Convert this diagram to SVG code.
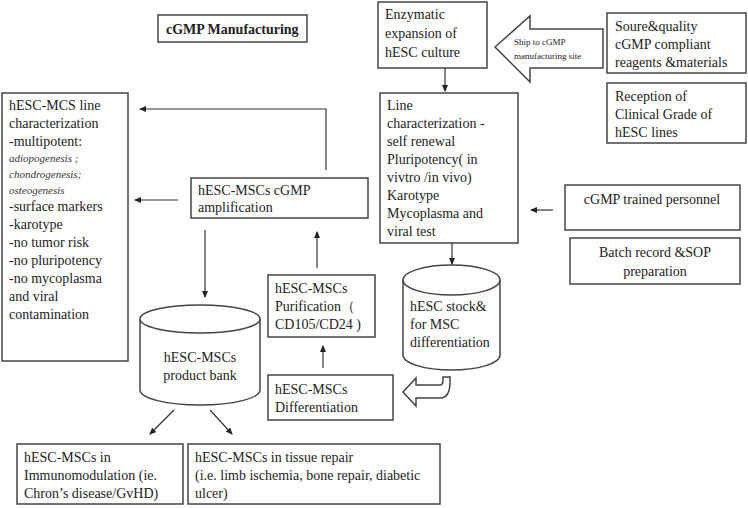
<svg xmlns="http://www.w3.org/2000/svg" width="748" height="508" viewBox="0 0 748 508">
<style>
.b{fill:#fff;stroke:#444;stroke-width:1.5}
.t{font-family:"Liberation Serif",serif;font-size:14px;fill:#222}
.s{font-family:"Liberation Serif",serif;font-size:9px;fill:#222}
.i{font-family:"Liberation Serif",serif;font-size:11px;font-style:italic;fill:#333}
.c{fill:none;stroke:#333;stroke-width:1.2}
</style>
<defs><marker id="a" markerWidth="8" markerHeight="8" refX="6" refY="4" orient="auto" markerUnits="userSpaceOnUse"><path d="M0,1 L7,4 L0,7 z" fill="#222"/></marker></defs>
<rect width="748" height="508" fill="#fff"/>
<g id="title"><rect class="b" x="158" y="15" width="149" height="27"/><text class="t" x="166" y="34" font-weight="bold" font-family="Liberation Sans,sans-serif" font-size="13">cGMP Manufacturing</text></g>
<g id="enzymatic"><rect class="b" x="378" y="2" width="109" height="66"/><text class="t" x="385" y="19">Enzymatic</text><text class="t" x="385" y="38">expansion of</text><text class="t" x="385" y="57">hESC culture</text></g>
<g id="ship"><path class="b" d="M495,47 L530,16 L530,29 L603,29 L603,68 L530,68 L530,82 Z"/><text class="s" x="514" y="45">Ship to cGMP</text><text class="s" x="514" y="59">manufacturing site</text></g>
<g id="source"><rect class="b" x="607" y="13" width="139" height="60"/><text class="t" x="615" y="31">Soure&amp;quality</text><text class="t" x="615" y="49">cGMP compliant</text><text class="t" x="615" y="67">reagents  &amp;materials</text></g>
<g id="reception"><rect class="b" x="607" y="83" width="139" height="60"/><text class="t" x="615" y="101">Reception of</text><text class="t" x="615" y="119">Clinical  Grade of</text><text class="t" x="615" y="137">hESC lines</text></g>
<g id="linechar"><rect class="b" x="380" y="93" width="138" height="150"/><text class="t" x="387" y="110">Line</text><text class="t" x="387" y="128">characterization  -</text><text class="t" x="387" y="146">self renewal</text><text class="t" x="387" y="164">Pluripotency( in</text><text class="t" x="387" y="182">vivtro /in vivo)</text><text class="t" x="387" y="200">Karotype</text><text class="t" x="387" y="218">Mycoplasma and</text><text class="t" x="387" y="236">viral  test</text></g>
<g id="personnel"><rect class="b" x="565" y="185" width="175" height="45"/><text class="t" x="652" y="204" text-anchor="middle">cGMP trained  personnel</text></g>
<g id="batch"><rect class="b" x="570" y="238" width="170" height="46"/><text class="t" x="655" y="257" text-anchor="middle">Batch record &amp;SOP</text><text class="t" x="655" y="276" text-anchor="middle">preparation</text></g>
<g id="stock"><path class="b" d="M403,280 L403,355 A48.5,15 0 0 0 500,355 L500,280"/><ellipse class="b" cx="451.5" cy="280" rx="48.5" ry="15"/><text class="t" x="410" y="311">hESC stock&amp;</text><text class="t" x="410" y="329">for MSC</text><text class="t" x="410" y="347">differentiation</text></g>
<g id="uturn"><path class="b" d="M403,392 L416,378 L416,385 L440,385 Q443,385 443,380 L443,377 L450,377 L450,382 Q450,398 440,398 L416,398 L416,406 Z"/></g>
<g id="diff"><rect class="b" x="268" y="375" width="125" height="45"/><text class="t" x="275" y="394">hESC-MSCs</text><text class="t" x="275" y="412">Differentiation</text></g>
<g id="purif"><rect class="b" x="268" y="275" width="107" height="62"/><text class="t" x="275" y="293">hESC-MSCs</text><text class="t" x="275" y="311">Purification（</text><text class="t" x="275" y="329">CD105/CD24 )</text></g>
<g id="amp"><rect class="b" x="191" y="178" width="177" height="40"/><text class="t" x="198" y="195">hESC-MSCs cGMP</text><text class="t" x="198" y="212">amplification</text></g>
<g id="leftchar"><rect class="b" x="2" y="93" width="126" height="268"/>
<text class="t" x="9" y="110">hESC-MCS line</text><text class="t" x="9" y="128">characterization</text><text class="t" x="9" y="146">-multipotent:</text><text class="i" x="9" y="162">adiopogenesis ;</text><text class="i" x="9" y="178">chondrogenesis;</text><text class="i" x="9" y="194">osteogenesis</text><text class="t" x="9" y="211">-surface markers</text><text class="t" x="9" y="229">-karotype</text><text class="t" x="9" y="247">-no tumor risk</text><text class="t" x="9" y="265">-no pluripotency</text><text class="t" x="9" y="283">-no mycoplasma</text><text class="t" x="9" y="301">and viral</text><text class="t" x="9" y="319">contamination</text></g>
<g id="bank"><path class="b" d="M140,319 L140,390 A60,15 0 0 0 260,390 L260,319"/><ellipse class="b" cx="200" cy="319" rx="60" ry="14"/><text class="t" x="200" y="362" text-anchor="middle">hESC-MSCs</text><text class="t" x="200" y="380" text-anchor="middle">product bank</text></g>
<g id="immuno"><rect class="b" x="17" y="444" width="166" height="60"/><text class="t" x="24" y="462">hESC-MSCs in</text><text class="t" x="24" y="480">Immunomodulation  (ie.</text><text class="t" x="24" y="498">Chron’s disease/GvHD)</text></g>
<g id="tissue"><rect class="b" x="188" y="444" width="252" height="60"/><text class="t" x="195" y="462">hESC-MSCs in tissue repair</text><text class="t" x="195" y="480">(i.e. limb ischemia, bone repair, diabetic</text><text class="t" x="195" y="498">ulcer)</text></g>
<g id="connectors">
<line class="c" x1="445" y1="68" x2="445" y2="91" marker-end="url(#a)"/>
<line class="c" x1="553" y1="210" x2="531" y2="210" marker-end="url(#a)"/>
<line class="c" x1="452" y1="243" x2="452" y2="264" marker-end="url(#a)"/>
<line class="c" x1="323" y1="368" x2="323" y2="346" marker-end="url(#a)"/>
<line class="c" x1="317" y1="268" x2="317" y2="232" marker-end="url(#a)"/>
<polyline class="c" points="326,170 326,109 140,109" marker-end="url(#a)"/>
<line class="c" x1="178" y1="200" x2="135" y2="200" marker-end="url(#a)"/>
<line class="c" x1="205" y1="230" x2="205" y2="297" marker-end="url(#a)"/>
<line class="c" x1="174" y1="410" x2="150" y2="434" marker-end="url(#a)"/>
<line class="c" x1="210" y1="410" x2="232" y2="434" marker-end="url(#a)"/>
</g>
</svg>
